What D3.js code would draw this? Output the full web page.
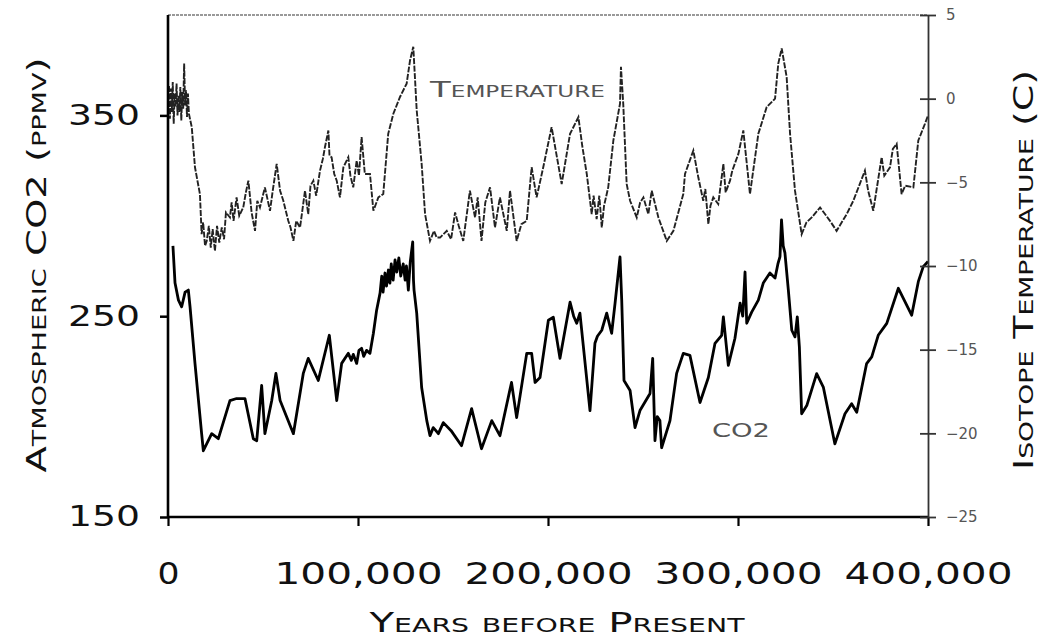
<!DOCTYPE html>
<html><head><meta charset="utf-8">
<script src="https://cdn.jsdelivr.net/npm/d3@7"></script>
<style>
html,body{margin:0;padding:0;background:#fff;}
svg{display:block;font-family:"DejaVu Sans",sans-serif;}
</style></head>
<body>
<svg id="chart" width="1040" height="641"></svg>
<script>
// ---- data (years before present in kyr) ----
const co2Years = [2.6,3.7,5.5,7.2,9,10.7,11.6,14.2,17.7,18.6,23,26.5,32.6,36.1,40.5,44.9,46.7,49.3,51,54.6,56.8,59,66,71.2,73.8,79.1,84.9,88.8,91.4,94.9,96.5,97.5,99.3,100.5,101.9,103,104.5,106.3,108.1,109.8,111.6,112.5,113.2,114.2,115,116,116.8,117.5,118.5,119.5,120.4,121.5,122.5,123.8,124.8,125.5,126.5,127.5,128.8,129.2,129.5,130.9,133.5,136.2,137.9,139.6,141,142.3,144.9,149,154.5,159.8,165,170.4,174.7,180.8,183.5,188.8,191.4,193.2,195.8,200.2,202.8,206.3,211.6,213.5,215.1,216.8,222.1,224.7,226,228.3,230.9,233.5,235.3,237.9,238.8,240,243.2,245.8,248.4,253.7,255.1,256.3,257.5,258.9,259.8,264.2,267.7,271.2,274.7,280,284.4,287.9,291.4,292.3,294.9,298.4,301.1,302.5,303.7,304.6,307.2,310.7,313.3,316.8,319.5,321,322.1,322.9,323.8,324.7,326.5,328.3,330,331.2,332.3,333.5,336.2,341.4,344.9,351,356.3,359.8,362.5,367.7,370.4,373.8,378.3,384.4,391.4,394.9,397.5,400];
const co2Values = [285,266.5,258,254.7,262,263,254.7,226.5,191.5,183,191.5,189,208,209,209,189,188,215.5,191.5,208,221.5,208,191.5,221.5,229,218,240.5,208,226.5,231.5,228,231,226.5,233,234,230,233,231.5,241.5,253,261.5,270,262,271.5,265,273,266.5,276,268,278,272,279,270,276,268,275,263,277,287,268,263,251.5,214.5,198,190.5,194.5,193,191.5,197,193,185.5,204,184,198,190.5,217,199.5,231.5,231.5,217,219.5,248,249.5,229,257,250,246.5,251.5,203,236.5,240,243,251.5,241.5,256.5,279.5,258,218,213,194.5,203,211.5,229,188,200,198,184.5,198,221.5,231.5,230.5,207,219.5,236.5,240.5,249.7,225.5,239,256.5,250,272,246.5,252,258,266.5,271.5,269,276,279.7,298,285,281.5,263,243,239.7,249.7,234.7,201.4,205.5,221.4,214.7,186.4,201.4,206.4,202.2,226.4,229.7,240.5,246.4,263.9,250.5,267.2,274.7,277.2];

const tempYears = [0,0.5,1,1.5,2,2.5,3,3.5,4,4.5,5,5.5,6,6.5,7,7.5,8,8.5,9,9.5,10,10.5,11,12.5,14.2,16.8,17.7,18.5,19.5,20.4,21.5,22.5,23.5,24.7,25.8,27,28.3,29.5,30.5,32.6,33.5,34.5,36.1,37.5,39.6,41,42.3,44,45.8,47,48.4,51,53.7,55,57.2,59,60.7,63.3,64.5,66,67.5,69.5,72.1,73.8,75,76.5,78,80,81.5,82.6,84.4,85,86.1,87.5,88.8,90.5,92.3,94.9,96,97.5,99.3,100.5,101.9,103.6,106.3,108.1,110.7,113.3,115.9,118.6,122.1,125.6,127.4,129.1,130.9,133.5,135.3,137.9,140,141.4,143.2,146.7,149,151.1,153,155.4,158.9,161.6,163,165,167,169.5,172.1,174.7,178.3,180,183.5,186,188.8,191.4,194,197.5,201.9,207.2,211.6,216,218,220.4,223,224,225.6,227,228.3,229.5,231.7,234.4,237.9,238.4,239.6,241.4,243.2,246.7,248.5,250.2,252.8,254.6,258.1,262.5,266,271.2,272.1,276.5,279.1,281.7,282.8,284.4,285.5,287,289.6,292.3,293.5,295.8,297,300.2,302.8,306.3,310.7,315.1,319.5,321.2,323,325.6,327.4,330,333.5,336,338.8,343.2,348.4,351.9,357.2,360.7,366.8,368.5,371.2,375.6,377,380,381.5,383.5,386.1,388,392.3,394.9,398.4,400];
const tempValues = [-0.5,0.8,-1.2,0.6,-0.8,1.0,-1.5,0.3,-0.5,0.9,-1.0,0.2,-0.8,0.7,-1.3,0.4,-0.6,2.1,-0.4,0.5,-1.1,0.3,-0.9,-1.7,-4.1,-5.7,-8.1,-7.4,-8.8,-8.5,-7.6,-8.9,-7.8,-9.1,-7.6,-8.6,-7.7,-8.4,-6.8,-7.1,-6.2,-7.3,-5.9,-7,-6.5,-5.6,-4.9,-6.8,-7.9,-6.1,-6.5,-5.3,-6.7,-5.6,-3.9,-5.5,-6.1,-7.3,-7.7,-8.5,-7.3,-7.7,-5.5,-6.9,-5.2,-4.9,-5.8,-4.3,-3.6,-2.9,-1.9,-3.4,-3.5,-4.5,-4.9,-5.9,-4.1,-3.5,-4.6,-5.3,-3.7,-4.6,-2.3,-4.5,-4.5,-6.7,-5.9,-5.7,-2.1,-0.9,0.1,0.9,2.3,3.1,-0.7,-3.9,-6.9,-8.5,-7.9,-8.3,-8.3,-7.9,-8.4,-6.8,-7.6,-8.5,-5.5,-7.1,-5.9,-8.5,-6.2,-5.3,-7.7,-5.9,-7.9,-5.5,-8.5,-7.5,-7.3,-4.1,-5.9,-4.1,-1.7,-5.1,-2.1,-1.1,-2.8,-4.5,-6.9,-5.8,-7.2,-5.8,-7.7,-6.4,-5.3,-2.5,-0.3,1.9,-0.3,-5.1,-6.1,-7.1,-6.2,-5.9,-6.9,-5.5,-7.1,-8.5,-7.9,-5.7,-4.5,-3.1,-4.7,-6.1,-5.4,-7.5,-6.4,-5.9,-6.3,-3.9,-5.6,-4.9,-4.3,-3.3,-1.9,-5.7,-2.1,-0.5,0,2.1,3.0,1.3,-2.1,-5.5,-8.1,-7.4,-7.1,-6.5,-7.3,-7.9,-6.9,-6.1,-4.3,-5.5,-6.7,-3.5,-4.6,-4.1,-3,-2.7,-5.7,-5.2,-5.3,-2.5,-1.5,-1.0];

const xTicks = [0,100000,200000,300000,400000];
const xTickLabels = ["0","100,000","200,000","300,000","400,000"];
const co2Ticks = [150,250,350];
const tempTicks = [5,0,-5,-10,-15,-20,-25];

// ---- scales ----
const svg = d3.select("#chart");
const x = d3.scaleLinear().domain([0,400000]).range([168,928]);
const yL = d3.scaleLinear().domain([150,400]).range([517,15]);
const yR = d3.scaleLinear().domain([-25,5]).range([517,15]);

// top border
svg.append("line").attr("x1",168).attr("x2",928).attr("y1",15).attr("y2",15)
  .attr("stroke","#999").attr("stroke-width",2).attr("stroke-dasharray","3,1");

// lines
const tempData = tempYears.map((t,i)=>({x:t*1000,y:tempValues[i]}));
const co2Data = co2Years.map((t,i)=>({x:t*1000,y:co2Values[i]}));
svg.append("path").datum(tempData)
  .attr("d", d3.line().x(d=>x(d.x)).y(d=>yR(d.y)))
  .attr("fill","none").attr("stroke","#222").attr("stroke-width",1.9)
  .attr("stroke-dasharray","6,1.5");
svg.append("path").datum(co2Data)
  .attr("d", d3.line().x(d=>x(d.x)).y(d=>yL(d.y)))
  .attr("fill","none").attr("stroke","#000").attr("stroke-width",2.8)
  .attr("stroke-linejoin","round");

// left axis
const gL = svg.append("g").attr("transform","translate(168,0)")
  .call(d3.axisLeft(yL).tickValues(co2Ticks).tickSize(8).tickPadding(20).tickFormat(d3.format("d")));
gL.select(".domain").attr("stroke","#000").attr("stroke-width",2.6).attr("d","M0,15V517");
gL.selectAll(".tick line").attr("stroke","#000").attr("stroke-width",2.5);
gL.selectAll(".tick text").attr("font-size",28).attr("fill","#111")
  .attr("font-family","DejaVu Sans, sans-serif")
  .attr("textLength",72).attr("lengthAdjust","spacingAndGlyphs");

// bottom axis
const gB = svg.append("g").attr("transform","translate(0,517)")
  .call(d3.axisBottom(x).tickValues(xTicks).tickSize(9).tickPadding(36)
    .tickFormat((d,i)=>xTickLabels[i]));
gB.select(".domain").attr("stroke","#000").attr("stroke-width",2.6).attr("d","M168,0H928");
gB.selectAll(".tick line").attr("stroke","#000").attr("stroke-width",2.2);
gB.selectAll(".tick text").attr("font-size",31).attr("fill","#111")
  .attr("font-family","DejaVu Sans, sans-serif")
  .each(function(d,i){ if(i>0) d3.select(this).attr("textLength",168).attr("lengthAdjust","spacingAndGlyphs"); else d3.select(this).attr("textLength",22).attr("lengthAdjust","spacingAndGlyphs"); });

// right axis
const gR = svg.append("g").attr("transform","translate(928,0)")
  .call(d3.axisRight(yR).tickValues(tempTicks).tickSizeInner(8).tickSizeOuter(0).tickPadding(10).tickFormat(d3.format("d")));
gR.select(".domain").attr("stroke","#333").attr("stroke-width",1.8);
gR.selectAll(".tick line").attr("stroke","#333").attr("stroke-width",1.8).attr("x1",-8);
gR.selectAll(".tick text").attr("font-size",15).attr("fill","#555")
  .attr("font-family","DejaVu Sans, sans-serif");

// axis titles
svg.append("text").attr("transform","translate(46,265) rotate(-90)")
  .attr("text-anchor","middle").attr("font-size",27).attr("fill","#111")
  .style("font-variant","small-caps")
  .attr("textLength",415).attr("lengthAdjust","spacingAndGlyphs")
  .text("Atmospheric CO2 (ppmv)");
svg.append("text").attr("transform","translate(1033,270) rotate(-90)")
  .attr("text-anchor","middle").attr("font-size",27).attr("fill","#111")
  .style("font-variant","small-caps")
  .attr("textLength",400).attr("lengthAdjust","spacingAndGlyphs")
  .text("Isotope Temperature (C)");
svg.append("text").attr("x",557).attr("y",632)
  .attr("text-anchor","middle").attr("font-size",27).attr("fill","#111")
  .style("font-variant","small-caps")
  .attr("textLength",375).attr("lengthAdjust","spacingAndGlyphs")
  .text("Years before Present");

// series labels
svg.append("text").attr("x",430).attr("y",97).attr("font-size",22).attr("fill","#555")
  .style("font-variant","small-caps")
  .attr("textLength",175).attr("lengthAdjust","spacingAndGlyphs")
  .text("Temperature");
svg.append("text").attr("x",712).attr("y",437).attr("font-size",20).attr("fill","#555")
  .attr("textLength",58).attr("lengthAdjust","spacingAndGlyphs")
  .text("CO2");
</script>
</body></html>
